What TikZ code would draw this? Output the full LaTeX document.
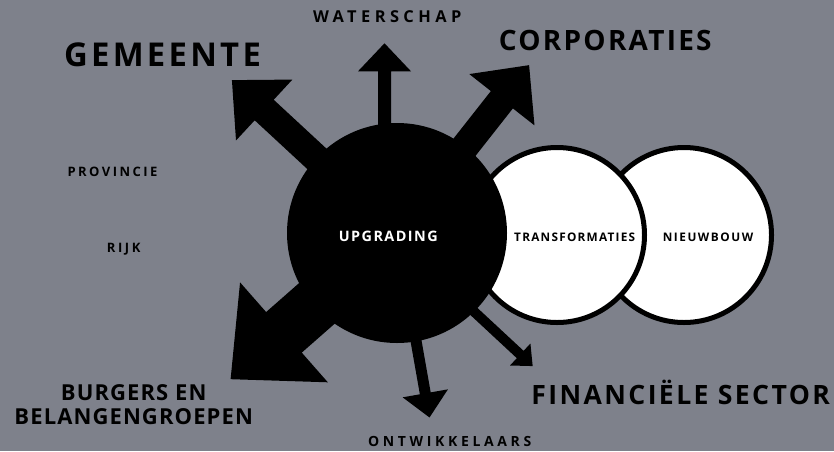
\documentclass[tikz,border=0pt]{standalone}
\usepackage{fontspec}
\setmainfont{Open Sans}
\definecolor{slate}{HTML}{7E818B}
% block arrow: start, angle, length, shaft width, head width, head length
\newcommand\blockarrow[6]{%
  \fill[black, shift={#1}, rotate=#2]
    (0,{-#4/2}) -- ({#3-#6},{-#4/2}) -- ({#3-#6},{-#5/2}) -- (#3,0)
    -- ({#3-#6},{#5/2}) -- ({#3-#6},{#4/2}) -- (0,{#4/2}) -- cycle;}
\tikzset{
  lab/.style 2 args={inner sep=0pt, anchor=base, text=black,
    font=\bfseries\fontsize{#1}{#1}\selectfont\addfontfeatures{LetterSpace=#2}},
  disc/.style={circle, inner sep=0pt, minimum size=#1},
  ring/.style={disc=#1, draw=black, line width=5pt, fill=white},
}
\begin{document}
\begin{tikzpicture}[x=1pt, y=-1pt]
  \fill[slate] (0,0) rectangle (834,451);
  \useasboundingbox (0,0) rectangle (834,451);

  \coordinate (hub) at (397,233);
  \coordinate (wstart) at (384.5,233);
  \coordinate (fstart) at (397,240);

  % white circles, the right one lying behind
  \node[ring=175pt] (nieuw) at (684,235) {};
  \node[ring=175pt] (trans) at (557,235) {};

  % arrows spreading out from the hub
  \blockarrow{(hub)}{137.2}{225}{28}{83}{44}
  \blockarrow{(hub)}{51.8}{213.6}{28}{83}{44}
  \blockarrow{(wstart)}{90}{189.7}{13}{53}{28}
  \blockarrow{(hub)}{221.3}{221.5}{54}{133}{71}
  \blockarrow{(hub)}{-80}{187.3}{11}{46}{24.5}
  \blockarrow{(fstart)}{-42.9}{185.2}{10}{30}{17}

  % central disc
  \node[disc=220pt, fill=black] (up) at (hub) {};

  % labels
  \node[lab={14.4}{10}, text=white] (tup) at (388.3,241) {UPGRADING};
  \node[lab={11.8}{10.6}] (ttrans) at (574.7,241.7) {TRANSFORMATIES};
  \node[lab={11.8}{13}] (tnieuw) at (708,241.7) {NIEUWBOUW};

  \node[lab={32.8}{10}] (gem) at (162.5,66.7) {GEMEENTE};
  \node[lab={28}{8}] (corp) at (605.3,50.7) {CORPORATIES};
  \node[lab={16.4}{27}] (water) at (387.2,22.7) {WATERSCHAP};
  \node[lab={13}{19}] (prov) at (112.5,176) {PROVINCIE};
  \node[lab={13}{20}] (rijk) at (123.7,252) {RIJK};
  \node[lab={22}{5}, align=center, font=\bfseries\fontsize{22}{23.3}\selectfont\addfontfeatures{LetterSpace=5}] (burg) at (133.7,424) {BURGERS EN\\BELANGENGROEPEN};
  \node[lab={14}{26}] (ontw) at (449.7,446.7) {ONTWIKKELAARS};
  \node[lab={26.6}{9}] (fin) at (680.7,404) {FINANCIËLE SECTOR};
\end{tikzpicture}
\end{document}
